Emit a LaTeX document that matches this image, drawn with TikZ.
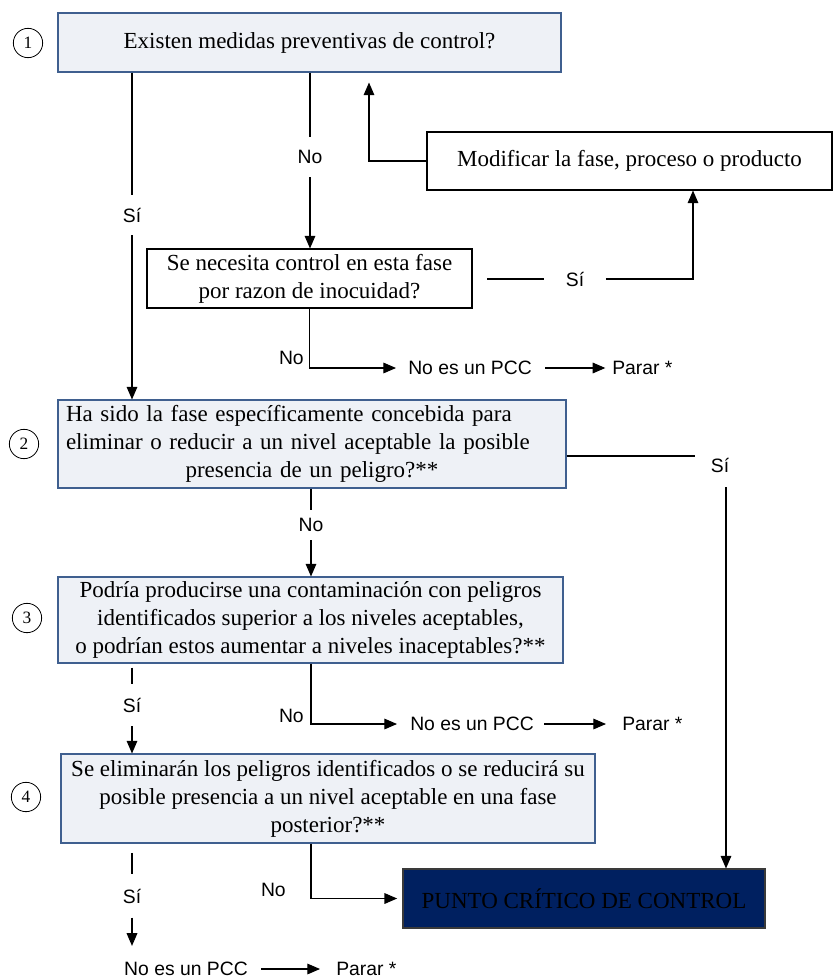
\documentclass[tikz,border=0pt]{standalone}
\usepackage{fontspec}
\setmainfont{Liberation Serif}
\newfontfamily\qsansfamily{Liberation Sans}
\usetikzlibrary{arrows.meta}
\definecolor{qfill}{HTML}{EEF1F6}
\definecolor{qedge}{HTML}{3F5F8F}
\definecolor{pccfill}{HTML}{002060}
\definecolor{pccedge}{HTML}{3A3A3A}
\newcommand\qboxfont{\fontsize{17.25}{21}\selectfont}
\newcommand\qtagfont{\qsansfamily\fontsize{14.5}{17}\selectfont}
\newcommand\qnumfont{\fontsize{13}{15}\selectfont}
\begin{document}
\begin{tikzpicture}[x=0.75pt,y=-0.75pt,
  anybox/.style 2 args={rectangle, line width=0.8pt, inner sep=0pt, font=\qboxfont,
    minimum width=#1, minimum height=#2},
  qbox/.style 2 args={anybox={#1}{#2}, draw=qedge, fill=qfill},
  wbox/.style 2 args={anybox={#1}{#2}, draw=black, fill=white},
  pccbox/.style 2 args={anybox={#1}{#2}, draw=pccedge, fill=pccfill, text=black},
  stepnum/.style={circle, draw, line width=0.6pt, minimum size=22pt, inner sep=0pt, font=\qnumfont},
  tag/.style={font=\qtagfont, inner sep=0pt},
  vtag/.style={tag, minimum height=#1},
  htag/.style={tag, minimum width=#1},
  ln/.style={line width=0.8pt},
  arr/.style={line width=0.8pt, -{Triangle[length=9.5pt,width=8pt]}}]
\useasboundingbox (0,0) rectangle (833,978);

% helper coordinates for vertical runs
\coordinate (mx) at (369,0);
\coordinate (my) at (693,0);
\coordinate (r1) at (695,456);
\coordinate (r2) at (726,487);

% question boxes
\node[qbox={377.25pt}{44.25pt}] (q1) at (309.5,42.5) {Existen medidas preventivas de control?};
\node[wbox={303.75pt}{43.5pt}] (mod) at (629.5,161) {Modificar la fase, proceso o producto};
\node[wbox={243.75pt}{44.25pt}, align=center] (q1b) at (309.5,278.5)
  {Se necesita control en esta fase\\por razon de inocuidad?};
\node[qbox={381pt}{66pt}, text width=369pt, align=left] (q2) at (312,444)
  {Ha sido la fase específicamente concebida para\\
   eliminar o reducir a un nivel aceptable la posible\\
   \makebox[369pt][c]{presencia de un peligro?**}};
\node[qbox={378.75pt}{64.5pt}, align=center] (q3) at (310.5,620)
  {Podría producirse una contaminación con peligros\\
   identificados superior a los niveles aceptables,\\
   o podrían estos aumentar a niveles inaceptables?**};
\node[qbox={400.5pt}{66.75pt}, align=center] (q4) at (328,798.5)
  {Se eliminarán los peligros identificados o se reducirá su\\
   posible presencia a un nivel aceptable en una fase\\
   posterior?**};
\node[pccbox={271.5pt}{44.25pt}] (pcc) at (584,898.5) {PUNTO CRÍTICO DE CONTROL};

% step numbers
\node[stepnum] (k1) at (28,43) {1};
\node[stepnum] (k2) at (24,444) {2};
\node[stepnum] (k3) at (27,618) {3};
\node[stepnum] (k4) at (26,797) {4};

% step 1 branches
\node[vtag=30pt] (s1) at (132,215) {Sí};
\draw[ln] (q1.south -| s1) -- (s1);
\draw[arr] (s1) -- (q2.north -| s1);

\node[vtag=30pt] (n1) at (310,157) {No};
\draw[ln] (q1.south -| n1) -- (n1);
\draw[arr] (n1) -- (q1b.north -| n1);

\draw[arr, shorten >=7.5pt] (mod.west) -| (q1.south -| mx);

\node[htag=45.75pt] (s2) at (575,279) {Sí};
\draw[ln, shorten <=11pt] (q1b.east |- s2) -- (s2);
\draw[arr] (s2.east) -| (mod.south -| my);

\node[tag, anchor=east] (no1) at (304,358) {No};
\node[tag, anchor=west] (np1) at (408,368) {No es un PCC};
\node[tag, anchor=west] (pa1) at (612,368) {Parar *};
\draw[arr] (q1b.south) |- ([xshift=-9pt]np1.west);
\draw[arr, shorten <=9.75pt, shorten >=5pt] (np1) -- (pa1);

% step 2 branches
\node[tag] (s3) at (720,465) {Sí};
\draw[ln] (q2.east |- r1) -- (r1);
\draw[arr] (r2) -- (pcc.north -| r2);

\node[vtag=22.5pt] (n2) at (311,525) {No};
\draw[ln] (q2.south -| n2) -- (n2);
\draw[arr] (n2) -- (q3.north -| n2);

% step 3 branches
\node[vtag=31.5pt] (s4) at (132,705) {Sí};
\draw[ln, shorten <=3pt] (q3.south -| s4) -- (s4);
\draw[arr] (s4) -- (q4.north -| s4);

\node[tag, anchor=east] (no2) at (304,716) {No};
\node[tag, anchor=west] (np2) at (410,724) {No es un PCC};
\node[tag, anchor=west] (pa2) at (622,724) {Parar *};
\draw[arr] (q3.south -| n2) |- ([xshift=-9.75pt]np2.west);
\draw[arr, shorten <=7.5pt, shorten >=12pt] (np2) -- (pa2);

% step 4 branches
\node[vtag=32pt] (s5) at (132,896) {Sí};
\node[tag] (np3) at (186,969) {No es un PCC};
\node[tag, anchor=west] (pa3) at (336,969) {Parar *};
\draw[ln, shorten <=7pt] (q4.south -| s5) -- (s5);
\draw[arr, shorten >=12pt] (s5) -- (s5 |- np3.north);
\draw[arr, shorten <=9.75pt, shorten >=12pt] (np3) -- (pa3);

\node[tag, anchor=east] (no3) at (286,890) {No};
\draw[arr, shorten >=4pt] (q4.south -| n2) |- (pcc.west);
\end{tikzpicture}
\end{document}
